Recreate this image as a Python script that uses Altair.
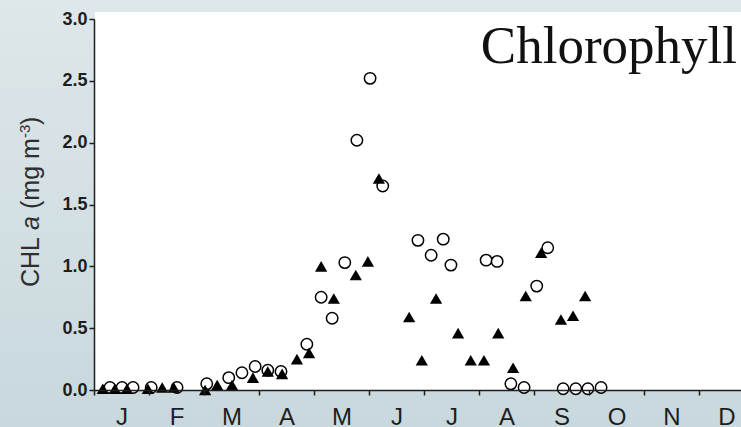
import json
import altair as alt
import pandas as pd

# month initials, centred under each month
months = ["J", "F", "M", "A", "M", "J", "J", "A", "S", "O", "N", "D"]
y_ticks = [0.0, 0.5, 1.0, 1.5, 2.0, 2.5, 3.0]

# station A (open circles): sampling time in months from 1 January, CHL a in mg m^-3
circle_month = [0.29, 0.51, 0.71, 1.04, 1.51, 2.05, 2.45, 2.69, 2.93, 3.16, 3.40,
                3.87, 4.13, 4.33, 4.56, 4.78, 5.02, 5.25, 5.89, 6.13, 6.35, 6.49,
                7.13, 7.33, 7.58, 7.82, 8.05, 8.25, 8.53, 8.76, 8.98, 9.22]
circle_chl = [0.02, 0.02, 0.02, 0.02, 0.02, 0.05, 0.10, 0.14, 0.19, 0.16, 0.15,
              0.37, 0.75, 0.58, 1.03, 2.02, 2.52, 1.65, 1.21, 1.09, 1.22, 1.01,
              1.05, 1.04, 0.05, 0.02, 0.84, 1.15, 0.01, 0.01, 0.01, 0.02]

# station B (filled triangles)
tri_month = [0.16, 0.38, 0.60, 0.98, 1.24, 1.45, 2.02, 2.24, 2.51, 2.89, 3.16,
             3.42, 3.69, 3.91, 4.13, 4.36, 4.76, 4.98, 5.18, 5.73, 5.96, 6.22,
             6.62, 6.85, 7.09, 7.35, 7.62, 7.85, 8.13, 8.49, 8.71, 8.93]
tri_chl = [0.01, 0.01, 0.01, 0.01, 0.02, 0.02, 0.00, 0.04, 0.04, 0.10, 0.15,
           0.13, 0.25, 0.30, 1.00, 0.74, 0.93, 1.04, 1.71, 0.59, 0.24, 0.74,
           0.46, 0.24, 0.24, 0.46, 0.18, 0.76, 1.11, 0.57, 0.60, 0.76]

circles = pd.DataFrame({"month": circle_month, "chl": circle_chl})
triangles = pd.DataFrame({"month": tri_month, "chl": tri_chl})

W, H = 647, 371
INK = "#1e1e1e"
one_row = alt.Data(values=[{}])

x_values = [i / 2 for i in range(24)]
month_js = json.dumps(months)
x_enc = alt.X(
    "month:Q",
    scale=alt.Scale(domain=[0, 11.764], nice=False, zero=False),
    axis=alt.Axis(
        title="",
        values=x_values,
        labelExpr=f"datum.value % 1 == 0 ? '' : {month_js}[floor(datum.value)]",
        labelFont="Liberation Sans",
        labelFontSize=24,
        labelColor="#1e1e1e",
        labelPadding=10,
        labelOverlap=False,
        labelFlush=False,
        labelBound=False,
        tickSize=5,
        tickWidth=1.5,
        tickColor=INK,
        tickOpacity={"expr": "datum.value % 1 == 0 ? 1 : 0"},
        domainColor=INK,
        domainWidth=1.5,
        grid=False,
        zindex=1,
    ),
)
y_enc = alt.Y(
    "chl:Q",
    scale=alt.Scale(domain=[0, 3], nice=False, zero=True),
    axis=alt.Axis(
        title="",
        values=y_ticks,
        format=".1f",
        labelFont="Liberation Sans",
        labelFontWeight="bold",
        labelFontSize=18,
        labelColor="#1e1e1e",
        labelPadding=2,
        tickSize=5,
        tickWidth=1.5,
        tickColor=INK,
        domainColor=INK,
        domainWidth=1.5,
        grid=False,
        zindex=1,
    ),
)

backdrop = alt.Chart(one_row).mark_rect(
    color=alt.LinearGradient(
        gradient="linear",
        stops=[alt.GradientStop(offset=0, color="#dee7ea"),
               alt.GradientStop(offset=1, color="#c8d8dd")],
        x1=0, x2=0, y1=0, y2=1,
    )
).encode(x=alt.value(-94), x2=alt.value(W), y=alt.value(-19), y2=alt.value(H + 37))

panel = alt.Chart(one_row).mark_rect(color="white").encode(
    x=alt.value(1), x2=alt.value(W), y=alt.value(-7), y2=alt.value(H + 1)
)

heading = alt.Chart(one_row).mark_text(
    text="Chlorophyll", font="Liberation Serif", fontSize=53,
    align="right", baseline="alphabetic", color="#111111",
).encode(x=alt.value(W - 4), y=alt.value(44))


def y_title_piece(text, y, size=25, style="normal", x=-55):
    return alt.Chart(one_row).mark_text(
        text=text, angle=270, align="left", baseline="alphabetic",
        font="Liberation Sans", fontSize=size, fontStyle=style, color="#2e2e2e",
    ).encode(x=alt.value(x), y=alt.value(y))


y_title = [
    y_title_piece("CHL", 268),
    y_title_piece("a", 211, style="italic"),
    y_title_piece("(mg", 190),
    y_title_piece("m", 140),
    y_title_piece("-3", 119, size=15, x=-64),
    y_title_piece(")", 106),
]

open_pts = alt.Chart(circles).mark_point(
    shape="circle", filled=True, color="white", stroke="black",
    strokeWidth=1.5, size=130, opacity=1,
).encode(x=x_enc, y=y_enc)

filled_pts = alt.Chart(triangles).mark_point(
    shape="triangle-up", filled=True, color="black", size=150, opacity=1,
).encode(x=x_enc, y=y_enc)

chart = alt.layer(
    backdrop, panel, heading, *y_title, open_pts, filled_pts
).properties(
    width=W, height=H,
    autosize=alt.AutoSizeParams(type="none"),
    padding={"left": 94, "top": 19, "right": 0, "bottom": 37},
    background="#d4e0e4",
).configure_view(strokeWidth=0)

chart.save("out.html", embed_options={"renderer": "svg", "actions": False})
